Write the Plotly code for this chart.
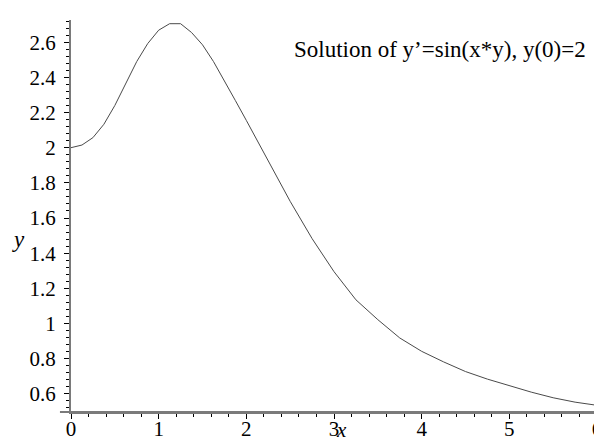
import plotly.graph_objects as go

# values
x_values = [0, 0.125, 0.25, 0.375, 0.5, 0.625, 0.75, 0.875, 1.0, 1.125, 1.25,
            1.375, 1.5, 1.625, 1.75, 1.875, 2.0, 2.25, 2.5, 2.75, 3.0, 3.25,
            3.5, 3.75, 4.0, 4.25, 4.5, 4.75, 5.0, 5.25, 5.5, 5.75, 6.0]
y_values = [2.000, 2.015, 2.057, 2.133, 2.240, 2.363, 2.490, 2.592, 2.668,
            2.705, 2.705, 2.655, 2.585, 2.490, 2.383, 2.268, 2.155, 1.925,
            1.695, 1.483, 1.295, 1.135, 1.022, 0.918, 0.842, 0.782, 0.727,
            0.684, 0.646, 0.610, 0.578, 0.553, 0.535]

x_ticks = [0, 1, 2, 3, 4, 5, 6]
y_ticks = [0.6, 0.8, 1, 1.2, 1.4, 1.6, 1.8, 2, 2.2, 2.4, 2.6]
y_tick_labels = ["0.6", "0.8", "1", "1.2", "1.4", "1.6", "1.8", "2", "2.2", "2.4", "2.6"]

title_text = "Solution of y\u2019=sin(x*y), y(0)=2"

AXIS_COLOR = "#7a7a7a"
FONT = "Liberation Serif"
TITLE_SIZE = 23
TICK_SIZE = 21

fig = go.Figure()
fig.add_trace(
    go.Scatter(
        x=x_values,
        y=y_values,
        mode="lines",
        line={"color": "#4a4a4a", "width": 1},
        hoverinfo="skip",
    )
)

fig.update_layout(
    width=602,
    height=441,
    margin={"l": 63, "r": 8, "t": 12, "b": 33},
    paper_bgcolor="white",
    plot_bgcolor="white",
    showlegend=False,
    font={"family": FONT, "size": TICK_SIZE, "color": "black"},
    xaxis={
        "range": [0, 6],
        "showgrid": False,
        "zeroline": False,
        "showline": True,
        "linecolor": AXIS_COLOR,
        "linewidth": 2,
        "tickmode": "array",
        "tickvals": x_ticks,
        "ticktext": [str(t) for t in x_ticks],
        "ticks": "outside",
        "ticklen": 5,
        "tickwidth": 1,
        "tickcolor": "black",
        "ticklabelstandoff": -8,
        "tickfont": {"family": FONT, "size": TICK_SIZE, "color": "black"},
        "minor": {"dtick": 0.2, "ticks": "outside", "ticklen": 3,
                  "tickcolor": "black", "tickwidth": 1},
    },
    yaxis={
        "range": [0.497, 2.726],
        "showgrid": False,
        "zeroline": False,
        "showline": True,
        "linecolor": AXIS_COLOR,
        "linewidth": 2,
        "tickmode": "array",
        "tickvals": y_ticks,
        "ticktext": y_tick_labels,
        "ticks": "outside",
        "ticklen": 5,
        "tickwidth": 1,
        "tickcolor": "black",
        "ticklabelstandoff": 4,
        "tickfont": {"family": FONT, "size": TICK_SIZE, "color": "black"},
        "minor": {"dtick": 0.04, "tick0": 0.6, "ticks": "outside", "ticklen": 3,
                  "tickcolor": "black", "tickwidth": 1},
    },
    annotations=[
        {
            "text": title_text,
            "xref": "paper",
            "yref": "paper",
            "x": 0.983,
            "y": 0.925,
            "xanchor": "right",
            "yanchor": "middle",
            "showarrow": False,
            "font": {"family": FONT, "size": TITLE_SIZE},
        },
        {
            "text": "<i>y</i>",
            "xref": "paper",
            "yref": "paper",
            "x": -0.1,
            "y": 0.44,
            "xanchor": "center",
            "yanchor": "middle",
            "showarrow": False,
            "font": {"family": FONT, "size": TITLE_SIZE},
        },
        {
            "text": "<i>x</i>",
            "xref": "paper",
            "yref": "paper",
            "x": 0.514,
            "y": -0.081,
            "xanchor": "center",
            "yanchor": "bottom",
            "showarrow": False,
            "font": {"family": FONT, "size": 21},
        },
    ],
    shapes=[
        {
            "type": "line",
            "xref": "paper",
            "yref": "paper",
            "x0": -0.021,
            "x1": 1.012,
            "y0": 0,
            "y1": 0,
            "line": {"color": AXIS_COLOR, "width": 2},
        }
    ],
)

fig.write_html("out.html")
